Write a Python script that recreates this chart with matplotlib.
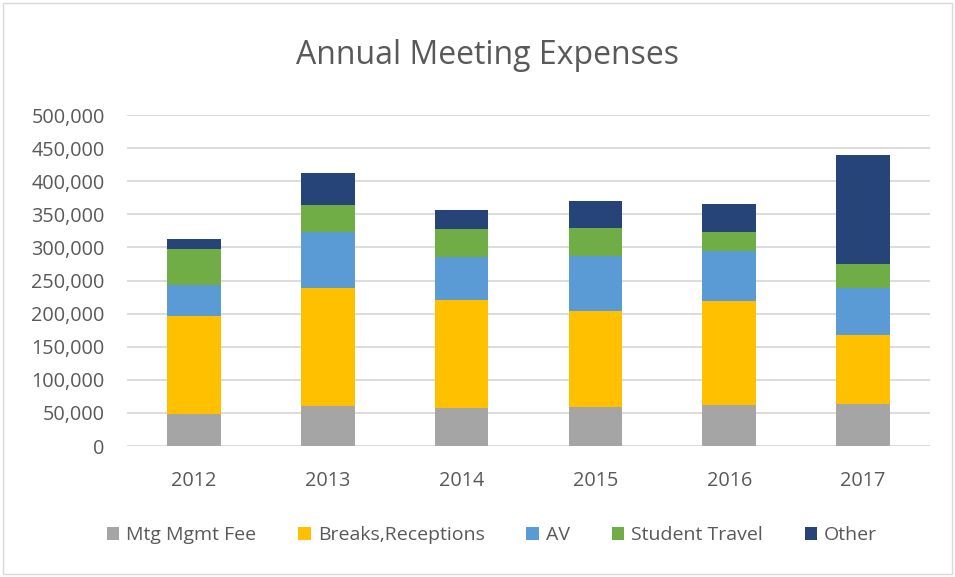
import matplotlib
matplotlib.use("Agg")
import matplotlib.pyplot as plt
from matplotlib.patches import Rectangle
from matplotlib.ticker import FuncFormatter
import numpy as np

years = ["2012", "2013", "2014", "2015", "2016", "2017"]
series_names = ["Mtg Mgmt Fee", "Breaks,Receptions", "AV", "Student Travel", "Other"]
mtg_mgmt_fee = [49000, 61000, 58000, 59000, 62000, 64000]
breaks_receptions = [148000, 178000, 163000, 145000, 157000, 104000]
av = [46000, 85000, 65000, 83000, 76000, 70000]
student_travel = [54000, 40000, 42000, 43000, 28000, 37000]
other = [16000, 49000, 28000, 40000, 42000, 165000]
colors = ["#A5A5A5", "#FFC000", "#5B9BD5", "#70AD47", "#264478"]

plt.rcParams['font.family'] = ['Open Sans', 'DejaVu Sans']
fig = plt.figure(figsize=(9.55, 5.77), dpi=100)
ax = fig.add_axes([127/955, 1-446/577, 803/955, 331/577])

data = [mtg_mgmt_fee, breaks_receptions, av, student_travel, other]
x = np.arange(len(years))
bottom = np.zeros(len(years))
handles = []
for name, vals, c in zip(series_names, data, colors):
    h = ax.bar(x, vals, width=0.4, bottom=bottom, color=c, label=name, zorder=3)
    handles.append(h)
    bottom += np.array(vals)

ax.set_xlim(-0.5, len(years) - 0.5)
ax.set_ylim(0, 500000)
ax.set_yticks(np.arange(0, 500001, 50000))
ax.yaxis.set_major_formatter(FuncFormatter(lambda v, p: f"{int(v):,}"))
ax.set_xticks(x)
ax.set_xticklabels(years)
ax.grid(axis='y', color='#D9D9D9', linewidth=1.3, zorder=0)
for s in ax.spines.values():
    s.set_visible(False)
ax.tick_params(axis='both', length=0, labelsize=14.3, colors='#595959')
ax.tick_params(axis='x', pad=18)
ax.tick_params(axis='y', pad=16)

fig.text(487/955, 1-55/577, "Annual Meeting Expenses", ha='center', va='center',
         fontsize=23, color='#595959')

leg = fig.legend(handles=handles, labels=series_names, loc='center',
                 bbox_to_anchor=(492/955, 1-535/577), ncol=5, frameon=False,
                 fontsize=14, handlelength=0.65, handleheight=0.65,
                 handletextpad=0.35, columnspacing=2.15)
for t in leg.get_texts():
    t.set_color('#595959')

fig.patches.append(Rectangle((3/955, 3/577), 949/955, 571/577, transform=fig.transFigure,
                             fill=False, edgecolor='#D9D9D9', linewidth=1))

fig.savefig("out.png", dpi=100)
